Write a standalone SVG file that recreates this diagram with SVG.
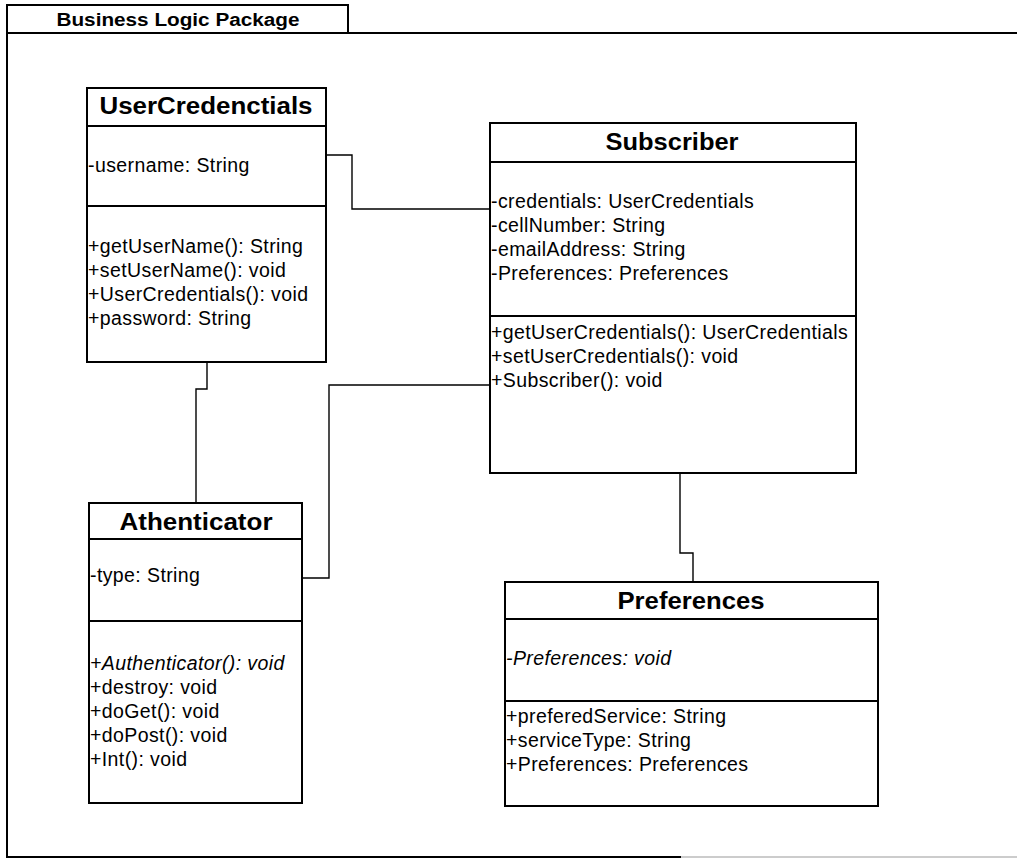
<svg xmlns="http://www.w3.org/2000/svg" width="1017" height="859" viewBox="0 0 1017 859">
<style>
.bg{fill:#fff}
.box{fill:#fff;stroke:#000;stroke-width:2}
.div{stroke:#000;stroke-width:2}
.pkg{fill:none;stroke:#000;stroke-width:2}
.conn{fill:none;stroke:#000;stroke-width:1.4}
.t{font-family:"Liberation Sans",Arial,sans-serif;font-size:19.5px;letter-spacing:0.4px;fill:#000}
.it{font-style:italic}
.name{font-family:"Liberation Sans",Arial,sans-serif;font-size:23px;font-weight:bold;fill:#000;text-anchor:middle}
.ptitle{font-family:"Liberation Sans",Arial,sans-serif;font-size:18px;font-weight:bold;fill:#000;text-anchor:middle}
</style>
<rect class="bg" x="0" y="0" width="1017" height="859"/>
<g id="package">
  <rect class="pkg" x="7" y="5" width="341" height="28"/>
  <text class="ptitle" x="178" y="26" textLength="243" lengthAdjust="spacingAndGlyphs">Business Logic Package</text>
  <path class="pkg" d="M348,33 H1017 M7,33 V857 H681"/>
  <path d="M681,857 H1017" stroke="#bbb" stroke-width="1.5"/>
</g>
<g id="connectors">
  <path class="conn" d="M326,155 H352 V209 H490"/>
  <path class="conn" d="M207,362 V389 H196 V503"/>
  <path class="conn" d="M302,578 H329 V385 H490"/>
  <path class="conn" d="M680,473 V553 H693 V582"/>
</g>
<g id="UserCredenctials">
  <rect class="box" x="87" y="88" width="239" height="274"/>
  <line class="div" x1="87" y1="126" x2="326" y2="126"/>
  <line class="div" x1="87" y1="206" x2="326" y2="206"/>
  <text class="name" x="206" y="114" textLength="213" lengthAdjust="spacingAndGlyphs">UserCredenctials</text>
  <text class="t" x="88" y="172">-username: String</text>
  <text class="t" x="88" y="253">+getUserName(): String</text>
  <text class="t" x="88" y="277">+setUserName(): void</text>
  <text class="t" x="88" y="301">+UserCredentials(): void</text>
  <text class="t" x="88" y="325">+password: String</text>
</g>
<g id="Subscriber">
  <rect class="box" x="490" y="123" width="366" height="350"/>
  <line class="div" x1="490" y1="162" x2="856" y2="162"/>
  <line class="div" x1="490" y1="316" x2="856" y2="316"/>
  <text class="name" x="672" y="150" textLength="133" lengthAdjust="spacingAndGlyphs">Subscriber</text>
  <text class="t" x="491" y="208">-credentials: UserCredentials</text>
  <text class="t" x="491" y="232">-cellNumber: String</text>
  <text class="t" x="491" y="256">-emailAddress: String</text>
  <text class="t" x="491" y="280">-Preferences: Preferences</text>
  <text class="t" x="491" y="339">+getUserCredentials(): UserCredentials</text>
  <text class="t" x="491" y="363">+setUserCredentials(): void</text>
  <text class="t" x="491" y="387">+Subscriber(): void</text>
</g>
<g id="Athenticator">
  <rect class="box" x="89" y="503" width="213" height="300"/>
  <line class="div" x1="89" y1="539" x2="302" y2="539"/>
  <line class="div" x1="89" y1="621" x2="302" y2="621"/>
  <text class="name" x="196" y="530" textLength="153" lengthAdjust="spacingAndGlyphs">Athenticator</text>
  <text class="t" x="90" y="582">-type: String</text>
  <text class="t it" x="90" y="670">+Authenticator(): void</text>
  <text class="t" x="90" y="694">+destroy: void</text>
  <text class="t" x="90" y="718">+doGet(): void</text>
  <text class="t" x="90" y="742">+doPost(): void</text>
  <text class="t" x="90" y="766">+Int(): void</text>
</g>
<g id="Preferences">
  <rect class="box" x="505" y="582" width="373" height="224"/>
  <line class="div" x1="505" y1="619" x2="878" y2="619"/>
  <line class="div" x1="505" y1="701" x2="878" y2="701"/>
  <text class="name" x="691" y="609" textLength="147" lengthAdjust="spacingAndGlyphs">Preferences</text>
  <text class="t it" x="506" y="665">-Preferences: void</text>
  <text class="t" x="506" y="723">+preferedService: String</text>
  <text class="t" x="506" y="747">+serviceType: String</text>
  <text class="t" x="506" y="771">+Preferences: Preferences</text>
</g>
</svg>
